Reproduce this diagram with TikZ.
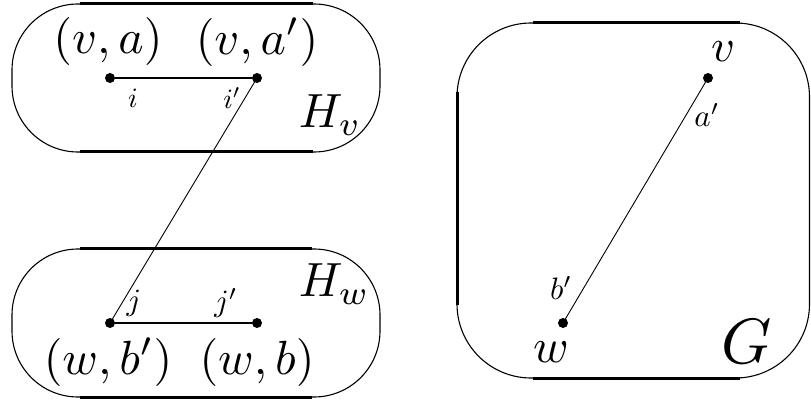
\documentclass[tikz,border=0pt]{standalone}
\tikzset{
  dotnode/.style={circle,fill=black,inner sep=0pt,minimum size=10pt},
  bigbox/.style={line width=1.1pt},
  flat/.style={line width=3pt},
  biglab/.style={inner sep=0pt,scale=4.8},
  smalllab/.style={inner sep=0pt,scale=2.8},
  midlab/.style={inner sep=0pt,scale=3.1},
  thinedge/.style={line width=0.9pt},
  thickedge/.style={line width=2.6pt}
}
\begin{document}
\begin{tikzpicture}[x=1pt,y=-1pt]
\useasboundingbox (0,0) rectangle (811,403);
% H_v box
\draw[bigbox,rounded corners=66pt] (12,4) rectangle (380,152);
\draw[flat] (80,4) -- (313,4);
\draw[flat] (80,152) -- (313,152);
% H_w box
\draw[bigbox,rounded corners=66pt] (12,249) rectangle (380,397);
\draw[flat] (80,249) -- (312,249);
\draw[flat] (80,397) -- (312,397);
% G box
\draw[bigbox,rounded corners=74pt] (457,23) rectangle (809.5,378);
\draw[flat] (533,23) -- (740,23);
\draw[flat] (533,378) -- (740,378);
\draw[flat] (457,92) -- (457,305);

% vertices
\node[dotnode] (i)  at (110,78) {};
\node[dotnode] (ip) at (257,78) {};
\node[dotnode] (j)  at (110,323) {};
\node[dotnode] (jp) at (257,323) {};
\node[dotnode] (v)  at (708,78) {};
\node[dotnode] (w)  at (563,323) {};

% edges
\draw[thickedge] (i) -- (ip);
\draw[thickedge] (j) -- (jp);
\draw[thinedge] (ip.center) -- (j.center);
\draw[thinedge] (v.center) -- (w.center);

% labels
\node[biglab] (lva)  at (108,42) {$(v,a)$};
\node[biglab] (lvap) at (257,42) {$(v,a')$};
\node[biglab] (lwbp) at (108,362) {$(w,b')$};
\node[biglab] (lwb)  at (257,362) {$(w,b)$};
\node[biglab,anchor=base west] (Hv) at (298,128) {$H_v$};
\node[biglab,anchor=base west] (Hw) at (298,297) {$H_w$};
\node[smalllab] (li)  at (133,98) {$i$};
\node[smalllab] (lip) at (232,98) {$i'$};
\node[midlab] (lj)  at (134,303) {$j$};
\node[midlab] (ljp) at (226,303) {$j'$};
\node[midlab] (lap) at (707,115) {$a'$};
\node[midlab] (lbp) at (561,288) {$b'$};
\node[inner sep=0pt,scale=4.6] (lv) at (723,52) {$v$};
\node[inner sep=0pt,scale=4.8] (lw) at (551,352) {$w$};
\node[inner sep=0pt,scale=6.4] (lG) at (747,342) {$G$};
\end{tikzpicture}
\end{document}
